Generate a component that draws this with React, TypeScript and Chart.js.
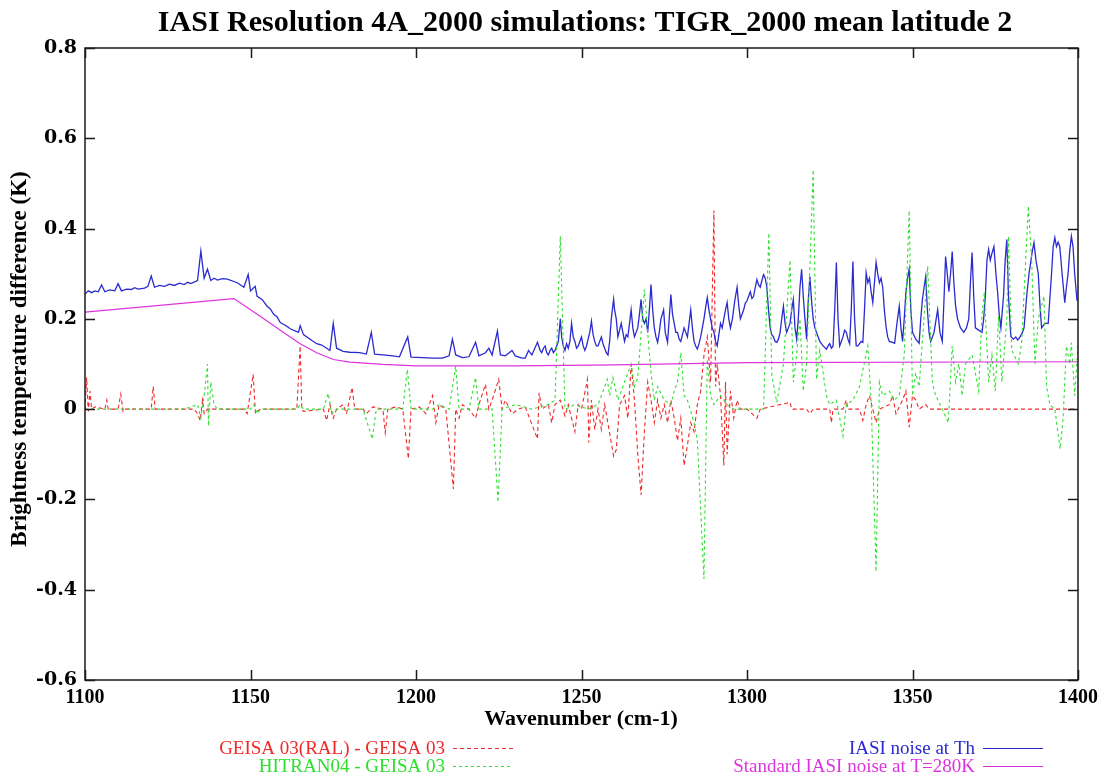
import { useEffect, useRef } from "react";
import { Chart, registerables } from "chart.js";

Chart.register(...registerables);

const chartTitle = "IASI Resolution 4A_2000 simulations: TIGR_2000 mean latitude 2";
const xAxisTitle = "Wavenumber (cm-1)";
const yAxisTitle = "Brightness temperature difference (K)";

const xTickValues = [1100, 1150, 1200, 1250, 1300, 1350, 1400];
const yTickValues = [-0.6, -0.4, -0.2, 0, 0.2, 0.4, 0.6, 0.8];
const yTickLabels = ["-0.6", "-0.4", "-0.2", "0", "0.2", "0.4", "0.6", "0.8"];

const seriesLabels = [
  "GEISA 03(RAL) - GEISA 03",
  "IASI noise at Th",
  "HITRAN04 - GEISA 03",
  "Standard IASI noise at T=280K",
];

// GEISA 03(RAL) - GEISA 03  [wavenumber, K]
const geisaRalDiff: [number, number][] = [
  [1100, 0], [1100.5, 0.07], [1101, -0.005], [1101.5, 0.04], [1102, 0], [1103, 0.005], [1106, 0], [1106.6, 0.02], [1107, 0],
  [1110, 0], [1110.8, 0.033], [1111.5, -0.005], [1112, 0], [1120, 0], [1120.6, 0.05], [1121.2, 0], [1133, 0], [1134, -0.01],
  [1134.8, -0.025], [1135.5, 0.02], [1136, -0.01], [1137, 0], [1148, 0], [1149, -0.01], [1150.8, 0.077], [1151.5, -0.01],
  [1152, -0.005], [1153, 0], [1164, 0], [1165, 0.14], [1165.5, 0], [1166, -0.005], [1172, 0], [1173, -0.025], [1174, 0.01],
  [1175, -0.02], [1176, 0], [1178, 0.01], [1179, -0.01], [1180.7, 0.048], [1181.5, 0], [1184, 0], [1185, -0.01], [1187, 0.005],
  [1190, 0], [1190.7, -0.052], [1191.5, 0], [1194, 0.005], [1196, 0], [1197.7, -0.11], [1198.5, 0], [1201, 0.005], [1203, -0.01],
  [1205, 0.03], [1206, -0.03], [1207, 0.01], [1209, 0], [1211.3, -0.177], [1212, 0], [1213, -0.02], [1214, 0.01], [1216, 0],
  [1218, -0.02], [1219, 0.01], [1221, 0.055], [1222, 0], [1223, 0.02], [1225, 0.066], [1226, 0], [1227, 0.02], [1229, -0.01],
  [1231, 0], [1233, 0.005], [1236.7, -0.066], [1237.2, 0.036], [1238, 0], [1240, 0.01], [1241, -0.03], [1242, 0.01],
  [1243.6, 0.02], [1245, -0.015], [1246, 0.01], [1248, -0.05], [1249, 0.01], [1250, 0], [1251.8, 0.066], [1252.2, -0.074],
  [1253, 0.02], [1254, -0.045], [1255, 0], [1256, -0.045], [1257, 0.01], [1259.7, -0.104], [1260.5, -0.09], [1261.5, 0.01],
  [1263, 0.03], [1264, -0.02], [1265, 0.1], [1266, 0.02], [1267, -0.1], [1268, -0.19], [1269, -0.05], [1270, 0.06], [1271, 0.02],
  [1272, -0.03], [1273, 0.02], [1274, -0.02], [1275, 0.01], [1276, -0.03], [1277, 0.02], [1278, -0.02], [1279, -0.07],
  [1280, -0.02], [1281, -0.125], [1282, -0.08], [1283, -0.03], [1284, -0.05], [1285, 0.01], [1286, 0.04], [1287, 0.12],
  [1288, 0.16], [1289, 0.06], [1290, 0.44], [1290.5, 0.05], [1291, 0.1], [1292, 0.03], [1293, -0.125], [1293.5, 0.06],
  [1294, -0.1], [1295, 0.04], [1296, -0.02], [1297, 0.02], [1298, 0], [1300, 0], [1303, -0.02], [1304, 0], [1313, 0.015],
  [1313.5, 0], [1318, 0], [1319, -0.01], [1320, 0], [1325, 0], [1325.5, -0.03], [1326, 0], [1329, 0], [1330, 0.02], [1330.5, 0],
  [1334, 0], [1335, -0.025], [1336, 0.01], [1337, 0.03], [1338, 0], [1339, -0.03], [1340, 0], [1343, 0.01], [1344, 0.03],
  [1345, -0.01], [1347, 0.02], [1348, 0.04], [1349, -0.04], [1350, 0.03], [1351, 0.02], [1352, 0], [1354, 0.01], [1355, 0],
  [1400, 0],
];

// IASI noise at Th
const iasiNoise: [number, number][] = [
  [1100, 0.255], [1101, 0.262], [1102, 0.258], [1103, 0.262], [1104, 0.26], [1105, 0.275], [1106, 0.26], [1107.5, 0.264],
  [1109, 0.262], [1110, 0.278], [1111, 0.262], [1112.5, 0.266], [1114, 0.265], [1115, 0.269], [1116, 0.266], [1118, 0.268],
  [1119, 0.272], [1120, 0.295], [1121, 0.27], [1122.5, 0.274], [1124, 0.272], [1125.5, 0.277], [1127, 0.274], [1128.5, 0.279],
  [1130, 0.276], [1131, 0.281], [1132, 0.278], [1134, 0.285], [1135, 0.35], [1136, 0.29], [1137, 0.31], [1138, 0.285],
  [1139, 0.29], [1140, 0.286], [1141.5, 0.289], [1143, 0.288], [1146, 0.28], [1148, 0.27], [1149.3, 0.298], [1150, 0.262],
  [1151.4, 0.272], [1152, 0.25], [1153.5, 0.243], [1155, 0.228], [1156, 0.222], [1157, 0.21], [1158, 0.205], [1159, 0.192],
  [1160.5, 0.186], [1162, 0.178], [1164.5, 0.17], [1165, 0.185], [1166, 0.165], [1168, 0.155], [1170, 0.145], [1171.5, 0.142],
  [1173, 0.135], [1174, 0.13], [1175, 0.19], [1176, 0.135], [1178, 0.128], [1180, 0.126], [1183, 0.125], [1185, 0.122],
  [1186.5, 0.17], [1187.5, 0.122], [1190, 0.12], [1193, 0.118], [1195, 0.116], [1197.5, 0.16], [1198.5, 0.115], [1202, 0.114],
  [1205, 0.113], [1208, 0.113], [1210, 0.118], [1211, 0.155], [1212, 0.12], [1214, 0.114], [1216, 0.116], [1218, 0.148],
  [1219, 0.118], [1221, 0.125], [1222, 0.135], [1223, 0.12], [1224.6, 0.173], [1225.5, 0.12], [1227, 0.118], [1229, 0.13],
  [1230, 0.118], [1232, 0.113], [1233, 0.113], [1234, 0.13], [1235, 0.12], [1236.7, 0.148], [1237.5, 0.13],
  [1238, 0.125], [1238.5, 0.135], [1239, 0.14], [1239.5, 0.125], [1240, 0.12], [1240.5, 0.13], [1241, 0.135], [1241.5, 0.125],
  [1242, 0.13], [1242.5, 0.14], [1243, 0.15], [1243.6, 0.2], [1244, 0.16], [1244.5, 0.14], [1245, 0.13], [1245.5, 0.145],
  [1246, 0.135], [1246.5, 0.15], [1247, 0.19], [1247.5, 0.16], [1248, 0.15], [1248.5, 0.135], [1249, 0.14], [1249.5, 0.15],
  [1250, 0.16], [1250.5, 0.14], [1251, 0.13], [1251.5, 0.14], [1252, 0.155], [1252.5, 0.17], [1253, 0.195], [1253.5, 0.165],
  [1254, 0.15], [1254.5, 0.14], [1255, 0.14], [1255.5, 0.15], [1256, 0.16], [1256.5, 0.145], [1257, 0.135], [1257.5, 0.125],
  [1258, 0.12], [1258.5, 0.15], [1259, 0.2], [1259.7, 0.243], [1260, 0.22], [1260.5, 0.2], [1261, 0.16], [1261.5, 0.175],
  [1262, 0.19], [1262.5, 0.17], [1263, 0.15], [1263.5, 0.165], [1264, 0.16], [1264.5, 0.19], [1265, 0.22], [1265.5, 0.18],
  [1266, 0.16], [1266.5, 0.17], [1267, 0.18], [1267.5, 0.21], [1268, 0.243], [1268.5, 0.2], [1269, 0.19], [1269.5, 0.2],
  [1270, 0.17], [1270.5, 0.22], [1271, 0.276], [1271.5, 0.22], [1272, 0.18], [1272.5, 0.16], [1273, 0.148], [1273.5, 0.17],
  [1274, 0.2], [1274.8, 0.22], [1275.3, 0.17], [1276, 0.148], [1276.5, 0.2], [1277, 0.254], [1277.5, 0.21], [1278, 0.19],
  [1278.5, 0.17], [1279, 0.17], [1279.5, 0.155], [1280, 0.15], [1280.5, 0.165], [1281, 0.18], [1281.5, 0.17], [1282, 0.16],
  [1282.5, 0.19], [1283, 0.22], [1283.5, 0.18], [1284, 0.15], [1284.5, 0.14], [1285, 0.133], [1285.5, 0.145], [1286, 0.16],
  [1286.5, 0.18], [1287, 0.2], [1287.5, 0.225], [1288, 0.247], [1288.5, 0.22], [1289, 0.2], [1289.5, 0.18], [1290, 0.17],
  [1290.5, 0.15], [1291, 0.14], [1291.5, 0.165], [1292, 0.19], [1292.5, 0.18], [1293, 0.2], [1293.5, 0.22], [1294, 0.236],
  [1294.5, 0.2], [1295, 0.18], [1295.6, 0.2], [1296.3, 0.24], [1297, 0.27], [1297.5, 0.23], [1298, 0.2], [1298.5, 0.21],
  [1299, 0.22], [1299.5, 0.235], [1300, 0.24], [1300.5, 0.25], [1301, 0.26], [1301.5, 0.245], [1302, 0.25], [1302.5, 0.27],
  [1303, 0.287], [1303.5, 0.275], [1304, 0.27], [1304.5, 0.285], [1305, 0.298], [1305.5, 0.29], [1306, 0.27], [1306.5, 0.22],
  [1307, 0.18], [1307.5, 0.165], [1308, 0.16], [1308.5, 0.15], [1309, 0.148], [1309.5, 0.155], [1310, 0.17], [1310.5, 0.2],
  [1311, 0.228], [1311.5, 0.19], [1312, 0.17], [1312.5, 0.18], [1313, 0.19], [1313.5, 0.22], [1314, 0.243], [1314.5, 0.18],
  [1315, 0.155], [1315.5, 0.2], [1316, 0.27], [1316.5, 0.31], [1317, 0.25], [1317.5, 0.2], [1318, 0.155], [1318.5, 0.24],
  [1319, 0.294], [1319.5, 0.24], [1320, 0.2], [1320.5, 0.18], [1321, 0.17], [1321.5, 0.16], [1322, 0.15], [1323, 0.14],
  [1324, 0.133], [1324.5, 0.14], [1325, 0.145], [1325.5, 0.135], [1326, 0.14], [1326.5, 0.22], [1327, 0.325], [1327.5, 0.2],
  [1328, 0.14], [1328.5, 0.15], [1329, 0.16], [1329.5, 0.175], [1330, 0.17], [1330.5, 0.155], [1331, 0.145], [1331.5, 0.22],
  [1332, 0.327], [1332.5, 0.2], [1333, 0.14], [1333.5, 0.14], [1334, 0.145], [1334.5, 0.15], [1335, 0.148], [1335.5, 0.22],
  [1336, 0.302], [1336.5, 0.28], [1337, 0.29], [1337.5, 0.26], [1338, 0.236], [1338.5, 0.28], [1339, 0.325], [1339.5, 0.3],
  [1340, 0.28], [1340.5, 0.29], [1341, 0.27], [1341.5, 0.22], [1342, 0.183], [1342.5, 0.16], [1343, 0.15], [1344, 0.148],
  [1344.6, 0.146], [1345.3, 0.19], [1346, 0.228], [1346.5, 0.18], [1347, 0.15], [1347.5, 0.2], [1348, 0.258], [1348.5, 0.29],
  [1349, 0.31], [1349.5, 0.22], [1350, 0.17], [1351, 0.155], [1352, 0.146], [1352.5, 0.2], [1353, 0.243], [1353.5, 0.27],
  [1354, 0.294], [1354.5, 0.22], [1355, 0.17], [1355.5, 0.15], [1356.5, 0.17], [1357.6, 0.22], [1358.3, 0.17], [1359, 0.15],
  [1359.5, 0.24], [1360, 0.338], [1360.5, 0.3], [1361, 0.26], [1361.5, 0.3], [1362, 0.349], [1362.5, 0.28], [1363, 0.23],
  [1363.6, 0.2], [1364.5, 0.18], [1365.5, 0.17], [1366.3, 0.18], [1367, 0.2], [1367.5, 0.28], [1368, 0.347], [1368.5, 0.25],
  [1369, 0.18], [1370, 0.175], [1371, 0.17], [1371.5, 0.2], [1372, 0.25], [1372.5, 0.33], [1373, 0.354], [1373.5, 0.33],
  [1374, 0.345], [1374.6, 0.36], [1375.2, 0.3], [1375.7, 0.26], [1376.2, 0.21], [1376.7, 0.18], [1377.5, 0.25], [1378, 0.33],
  [1378.5, 0.376], [1379, 0.25], [1379.7, 0.161], [1380.5, 0.155], [1381.2, 0.16], [1381.8, 0.153], [1382.5, 0.16],
  [1383.2, 0.17], [1383.7, 0.18], [1384.5, 0.25], [1385.2, 0.3], [1385.8, 0.33], [1386.2, 0.35], [1386.7, 0.369],
  [1387.3, 0.33], [1388, 0.3], [1388.5, 0.23], [1389, 0.18], [1390, 0.19], [1391, 0.19], [1392, 0.3], [1392.5, 0.36],
  [1393, 0.38], [1393.5, 0.36], [1394, 0.37], [1394.5, 0.36], [1395.2, 0.3], [1396, 0.236], [1396.5, 0.27], [1397, 0.3],
  [1397.5, 0.35], [1398, 0.383], [1398.5, 0.36], [1399, 0.3], [1399.7, 0.24],
];

// HITRAN04 - GEISA 03
const hitranDiff: [number, number][] = [
  [1100, 0], [1130, 0], [1134, 0.01], [1135, -0.02], [1136, 0.03], [1137, 0.1], [1137.3, -0.037], [1138, 0.06], [1139, 0.01],
  [1140, 0], [1150, 0], [1151, 0.01], [1152, -0.01], [1153, 0], [1164, 0], [1165, 0.01], [1166, 0], [1172, 0], [1173.5, 0.035],
  [1174.5, -0.01], [1176, 0], [1184, 0], [1186.8, -0.066], [1188, 0], [1196, 0], [1197.4, 0.088], [1198.5, 0], [1205, 0],
  [1207, 0.01], [1210, 0], [1212, 0.095], [1213, 0], [1216, 0], [1218, 0.07], [1219, 0], [1223, 0], [1224.8, -0.206],
  [1226, 0], [1230, 0.01], [1235, 0], [1240, 0.01], [1242, 0.02], [1243.6, 0.383], [1245, 0], [1248, 0.01], [1252, 0],
  [1255, 0.01], [1257.8, 0.066], [1258.5, 0.03], [1259.5, 0.07], [1261, 0.02], [1263, 0.06], [1265, 0.1], [1266, 0.05],
  [1267, 0.07], [1269, 0.265], [1270, 0.17], [1271, 0.08], [1272, 0.02], [1273, 0.05], [1275, 0.02], [1277, 0.01],
  [1278, 0.04], [1279, 0.06], [1280, 0.125], [1281, 0.03], [1282, 0.02], [1284, -0.03], [1285, -0.07], [1287, -0.376],
  [1288, 0.11], [1289, 0.03], [1290, 0.01], [1292, 0.03], [1294, 0.01], [1296, 0], [1305, 0], [1306.6, 0.39], [1307.5, 0.075],
  [1309, 0.015], [1311, 0.1], [1313, 0.33], [1314, 0.06], [1315, 0.12], [1316, 0.2], [1317, 0.04], [1318, 0.1], [1320, 0.53],
  [1321, 0.066], [1322, 0.13], [1324, 0.03], [1325, 0.01], [1327, 0.02], [1329, -0.06], [1330, 0.01], [1332, 0.02],
  [1334, 0.05], [1336.5, 0.14], [1337.5, 0.02], [1339, -0.36], [1340, 0.06], [1341, 0.03], [1343, 0.04], [1344.5, 0.02],
  [1346, 0.03], [1347.5, 0.12], [1349, 0.44], [1350, 0.03], [1351, 0.08], [1352, 0.05], [1354.6, 0.317], [1356, 0.06],
  [1357, 0.03], [1359, 0], [1360.8, -0.03], [1362, 0.14], [1363, 0.06], [1364, 0.1], [1365, 0.03], [1366, 0.1], [1367, 0.11],
  [1368, 0.12], [1369, 0.08], [1370, 0.04], [1371, 0.21], [1371.7, 0.258], [1373, 0.06], [1374, 0.12], [1375, 0.04],
  [1376, 0.206], [1377, 0.06], [1378.5, 0.2], [1379, 0.383], [1380, 0.13], [1382, 0.1], [1383, 0.15], [1385, 0.45],
  [1386, 0.33], [1387, 0.1], [1388, 0.2], [1389.7, 0.25], [1390.5, 0.05], [1391.5, 0.01], [1393, 0], [1394.6, -0.088],
  [1395.5, -0.02], [1396.5, 0.14], [1397.5, 0.1], [1398, 0.147], [1399, 0.03], [1400, 0.14],
];

// Standard IASI noise at T=280K
const standardNoise: [number, number][] = [
  [1100, 0.215], [1145, 0.245], [1150, 0.22], [1155, 0.195], [1160, 0.17], [1165, 0.145], [1170, 0.125], [1175, 0.11],
  [1180, 0.104], [1190, 0.099], [1200, 0.096], [1230, 0.096], [1260, 0.098], [1300, 0.103], [1400, 0.105],
];

const toXY = (arr: [number, number][]) => arr.map(([x, y]) => ({ x, y }));

const SERIF = '"Liberation Serif", "Times New Roman", serif';

const framePlugin = {
  id: "gnuplotFrame",
  afterDraw(chart: any) {
    const { ctx, chartArea: a, scales } = chart;
    ctx.save();
    ctx.strokeStyle = "#1a1a1a";
    ctx.lineWidth = 1.5;
    ctx.setLineDash([]);
    ctx.strokeRect(a.left, a.top, a.right - a.left, a.bottom - a.top);
    const tick = 10;
    ctx.beginPath();
    for (const v of xTickValues) {
      const px = Math.round(scales.x.getPixelForValue(v)) + 0.5;
      ctx.moveTo(px, a.bottom);
      ctx.lineTo(px, a.bottom - tick);
      ctx.moveTo(px, a.top);
      ctx.lineTo(px, a.top + tick);
    }
    for (const v of yTickValues) {
      const py = Math.round(scales.y.getPixelForValue(v)) + 0.5;
      ctx.moveTo(a.left, py);
      ctx.lineTo(a.left + tick, py);
      ctx.moveTo(a.right, py);
      ctx.lineTo(a.right - tick, py);
    }
    ctx.stroke();

    ctx.fillStyle = "#000";
    ctx.textAlign = "center";
    ctx.textBaseline = "alphabetic";
    ctx.font = `bold 30px ${SERIF}`;
    ctx.fillText(chartTitle, 585, 31);

    ctx.font = `bold 22px ${SERIF}`;
    ctx.fillText(xAxisTitle, 581, 725);

    ctx.save();
    ctx.translate(26, 359);
    ctx.rotate(-Math.PI / 2);
    ctx.font = `bold 23px ${SERIF}`;
    ctx.fillText(yAxisTitle, 0, 0);
    ctx.restore();

    // legend (gnuplot style: text right-aligned, sample to the right)
    const slots = [
      { tx: 445, y: 748 },
      { tx: 975, y: 748 },
      { tx: 445, y: 766 },
      { tx: 975, y: 766 },
    ];
    ctx.font = `19px ${SERIF}`;
    ctx.textAlign = "right";
    ctx.textBaseline = "middle";
    chart.data.datasets.forEach((ds: any, i: number) => {
      const s = slots[i];
      ctx.fillStyle = ds.borderColor;
      ctx.fillText(ds.label, s.tx, s.y + 1);
      ctx.strokeStyle = ds.borderColor;
      ctx.lineWidth = 1.2;
      ctx.setLineDash(ds.borderDash || []);
      ctx.beginPath();
      ctx.moveTo(s.tx + 8, s.y + 0.5);
      ctx.lineTo(s.tx + 68, s.y + 0.5);
      ctx.stroke();
    });
    ctx.restore();
  },
};

export default function App() {
  const ref = useRef<HTMLCanvasElement | null>(null);
  useEffect(() => {
    if (!ref.current) return;
    const chart = new Chart(ref.current, {
      type: "line",
      data: {
        datasets: [
          {
            label: seriesLabels[0],
            data: toXY(geisaRalDiff),
            borderColor: "#f02828",
            borderWidth: 1.1,
            borderDash: [4, 3],
            pointRadius: 0,
            tension: 0,
            order: 4,
          },
          {
            label: seriesLabels[1],
            data: toXY(iasiNoise),
            borderColor: "#2a2ad0",
            borderWidth: 1.3,
            pointRadius: 0,
            tension: 0,
            order: 3,
          },
          {
            label: seriesLabels[2],
            data: toXY(hitranDiff),
            borderColor: "#2ee02e",
            borderWidth: 1.1,
            borderDash: [3, 3],
            pointRadius: 0,
            tension: 0,
            order: 2,
          },
          {
            label: seriesLabels[3],
            data: toXY(standardNoise),
            borderColor: "#dd33dd",
            borderWidth: 1.2,
            pointRadius: 0,
            tension: 0,
            order: 1,
          },
        ],
      },
      options: {
        responsive: false,
        devicePixelRatio: 1,
        animation: false,
        parsing: false as any,
        layout: { padding: { left: 25, right: 35, top: 48, bottom: 65 } },
        plugins: {
          legend: { display: false },
          title: { display: false },
          tooltip: { enabled: false },
        },
        scales: {
          x: {
            type: "linear",
            min: 1100,
            max: 1400,
            afterBuildTicks: (s: any) => {
              s.ticks = xTickValues.map((v) => ({ value: v }));
            },
            afterFit: (s: any) => {
              s.height = 30;
            },
            grid: { display: false, drawTicks: false },
            border: { display: false },
            ticks: {
              padding: 6,
              color: "#000",
              maxRotation: 0,
              autoSkip: false,
              font: { family: SERIF, size: 20, weight: "bold" },
              callback: (v: any) => String(v),
            },
          },
          y: {
            type: "linear",
            min: -0.6,
            max: 0.8,
            afterBuildTicks: (s: any) => {
              s.ticks = yTickValues.map((v) => ({ value: v }));
            },
            afterFit: (s: any) => {
              s.width = 60;
            },
            grid: { display: false, drawTicks: false },
            border: { display: false },
            ticks: {
              padding: 8,
              color: "#000",
              autoSkip: false,
              font: { family: '"DejaVu Serif", serif', size: 19, weight: "bold" },
              callback: (_v: any, i: number) => yTickLabels[i],
            },
          },
        },
      },
      plugins: [framePlugin],
    });
    return () => chart.destroy();
  }, []);

  return (
    <div style={{ position: "fixed", left: 0, top: 0, width: 1113, height: 775, background: "#fff" }}>
      <canvas ref={ref} width={1113} height={775} style={{ display: "block", width: 1113, height: 775 }} />
    </div>
  );
}
